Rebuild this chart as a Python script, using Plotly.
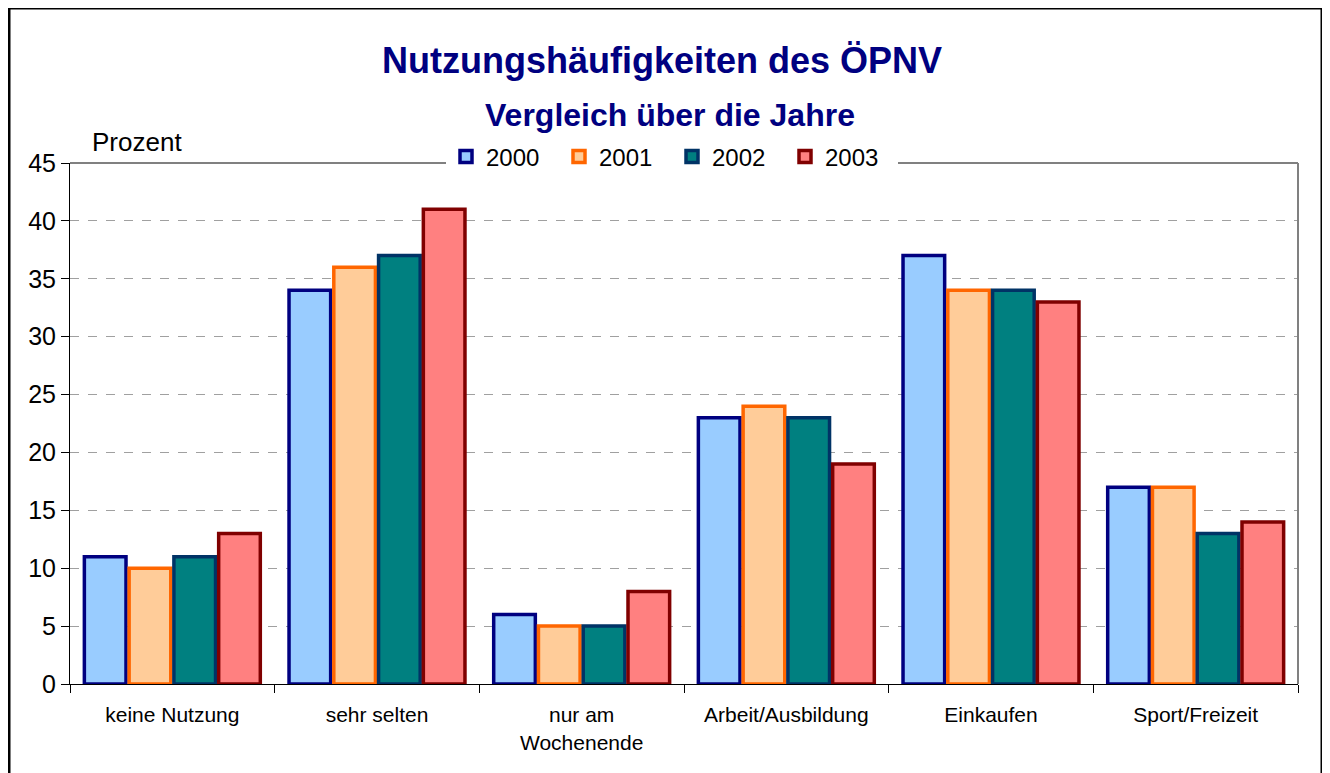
import plotly.graph_objects as go

categories = ["keine Nutzung", "sehr selten", "nur am<br>Wochenende",
              "Arbeit/Ausbildung", "Einkaufen", "Sport/Freizeit"]
years = ["2000", "2001", "2002", "2003"]
v2000 = [11, 34, 6, 23, 37, 17]
v2001 = [10, 36, 5, 24, 34, 17]
v2002 = [11, 37, 5, 23, 34, 13]
v2003 = [13, 41, 8, 19, 33, 14]
series = [v2000, v2001, v2002, v2003]
fills = ["#99CCFF", "#FFCC99", "#008080", "#FF8080"]
borders = ["#000080", "#FF6600", "#003366", "#800000"]

OFF = 8  # page body margin
W, H = 1330 - OFF, 773 - OFF
# plot area in page pixel coordinates (reference)
L, R, T, B = 70, 1298, 163, 684
pw, ph = R - L, B - T


def px(x):
    return (x - L) / pw


def py(y):
    return (B - y) / ph


fig = go.Figure()
for name, vals, fc, bc in zip(years, series, fills, borders):
    fig.add_trace(go.Bar(x=categories, y=vals, name=name,
                         marker=dict(color=fc, line=dict(color=bc, width=3.5))))

FONT = "Liberation Sans, Arial, sans-serif"
fig.update_layout(
    width=W, height=H,
    margin=dict(l=L - OFF, r=W - (R - OFF), t=T - OFF, b=H - (B - OFF), pad=0),
    paper_bgcolor="white", plot_bgcolor="white",
    barmode="group", bargap=0.125, bargroupgap=0.07,
    font=dict(family=FONT, color="black"),
    showlegend=True,
    legend=dict(orientation="h", x=px(672), y=py(157), xanchor="center",
                yanchor="middle", bgcolor="white", font=dict(size=24),
                itemwidth=30, tracegroupgap=0,
                entrywidth=68, entrywidthmode="pixels"),
    xaxis=dict(showline=True, linecolor="black", linewidth=1,
               ticks="outside", ticklen=8, tickcolor="black",
               tickson="boundaries", tickfont=dict(size=21),
               ticklabelstandoff=12,
               showgrid=False, fixedrange=True),
    yaxis=dict(range=[0, 45], dtick=5, showline=True, linecolor="black",
               linewidth=1, ticks="outside", ticklen=8, tickcolor="black",
               tickfont=dict(size=25), showgrid=True, gridcolor="#A0A0A0",
               griddash="dash", gridwidth=1, zeroline=False, fixedrange=True),
    annotations=[
        dict(text="<b>Nutzungshäufigkeiten des ÖPNV</b>", x=px(662), y=py(60),
             xref="paper", yref="paper", xanchor="center", yanchor="middle",
             showarrow=False,
             font=dict(size=36, color="#000080", family=FONT)),
        dict(text="<b>Vergleich über die Jahre</b>", x=px(670), y=py(115),
             xref="paper", yref="paper", xanchor="center", yanchor="middle",
             showarrow=False,
             font=dict(size=32, color="#000080", family=FONT)),
        dict(text="Prozent", x=px(90), y=py(142), xref="paper", yref="paper",
             xanchor="left", yanchor="middle", showarrow=False,
             font=dict(size=26)),
    ],
    shapes=[
        dict(type="line", xref="paper", yref="paper", x0=0, x1=1, y0=1, y1=1,
             line=dict(color="#808080", width=2)),
        dict(type="line", xref="paper", yref="paper", x0=1, x1=1, y0=0, y1=1,
             line=dict(color="#808080", width=2)),
        dict(type="rect", xref="paper", yref="paper",
             x0=px(9), x1=px(1322), y0=py(800), y1=py(8),
             line=dict(color="black", width=3), fillcolor="rgba(0,0,0,0)"),
    ],
)

fig.write_html("out.html")
